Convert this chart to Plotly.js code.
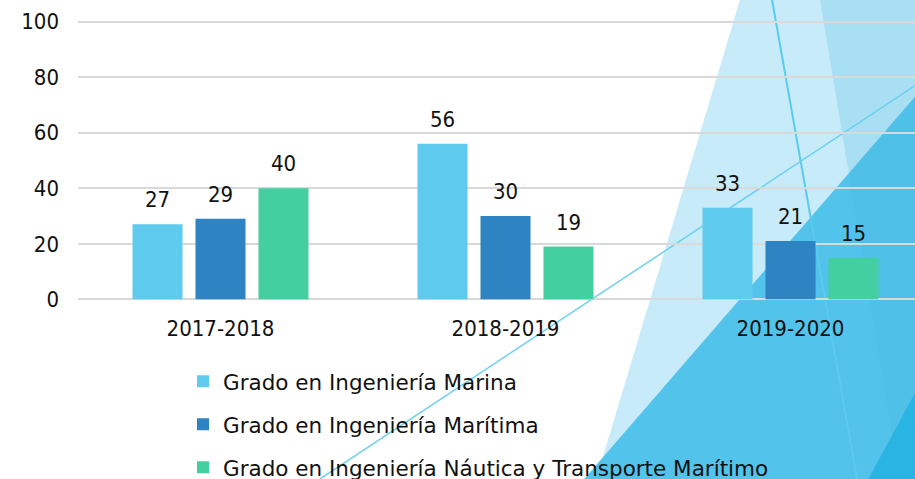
<!DOCTYPE html>
<html><head><meta charset="utf-8">
<script src="https://cdn.plot.ly/plotly-3.0.1.min.js"></script>
<style>html,body{margin:0;padding:0;background:#fff;overflow:hidden;width:915px;height:479px;}#chart{width:915px;height:500px;}</style>
</head><body><div id="chart"></div>
<script>
const categories = ["2017-2018", "2018-2019", "2019-2020"];
const seriesNames = ["Grado en Ingeniería Marina", "Grado en Ingeniería Marítima", "Grado en Ingeniería Náutica y Transporte Marítimo"];
const marina = [27, 56, 33];
const maritima = [29, 30, 21];
const nautica = [40, 19, 15];
const seriesValues = [marina, maritima, nautica];
const colors = ["#5DCAEE", "#2E83C3", "#44CFA0"];
const yTicks = [0, 20, 40, 60, 80, 100];

const FONT = "DejaVu Sans Condensed, DejaVu Sans, sans-serif";
const LFONT = "DejaVu Sans, sans-serif";
// figure drawn slightly taller than the 479px window so the legend's last row can sit at the bottom edge
const W = 915, H = 500, VIEW_H = 479;
const Y0PX = 299.5, Y100PX = 22, YPAD = 0.6;           // pixel rows of 0 and 100, small padding so edge gridlines show
const UNIT = (Y0PX - Y100PX) / 100;
const M = {l: 78, r: 0, t: Y100PX - YPAD * UNIT, b: H - (Y0PX + YPAD * UNIT)};
const PW = W - M.l - M.r, PH = H - M.t - M.b;
const px = x => (x - M.l) / PW;
const py = y => (H - M.b - y) / PH;
function poly(pts){ return pts.map((p,i)=>(i?'L':'M')+px(p[0]).toFixed(5)+','+py(p[1]).toFixed(5)).join('')+'Z'; }

const bargap = 0.337, bargroupgap = 0.206;
const slot = (1 - bargap) / seriesValues.length;

const traces = seriesValues.map((vals, j) => ({
  type: 'bar', x: categories, y: vals, name: seriesNames[j],
  marker: {color: colors[j], line: {width: 0}},
  legendgroup: 'g' + j, hoverinfo: 'skip'
}));

const annotations = [];
seriesValues.forEach((vals, j) => vals.forEach((v, i) => {
  annotations.push({x: i + (j - (seriesValues.length - 1) / 2) * slot, y: v, xref: 'x', yref: 'y',
    text: String(v), showarrow: false, yanchor: 'bottom', yshift: 10,
    font: {family: FONT, size: 22, color: '#111'}});
}));

const shapes = [
  {type: 'path', xref: 'paper', yref: 'paper', layer: 'below', line: {width: 0}, fillcolor: '#C7EBF8',
   path: poly([[740,0],[915,0],[915,H],[590,H]])},
  {type: 'path', xref: 'paper', yref: 'paper', layer: 'below', line: {width: 0}, fillcolor: '#B2E4F6',
   path: poly([[820,0],[915,0],[915,H],[903,H]])},
  {type: 'path', xref: 'paper', yref: 'paper', layer: 'below', line: {width: 0}, fillcolor: '#52C3EA',
   path: poly([[915,97],[915,H],[566,H]])},
  {type: 'path', xref: 'paper', yref: 'paper', layer: 'below', line: {width: 0}, fillcolor: 'rgba(30,150,210,0.06)',
   path: poly([[820,0],[915,0],[915,H],[903,H]])},
  {type: 'path', xref: 'paper', yref: 'paper', layer: 'below', line: {width: 0}, fillcolor: '#2AB4E3',
   path: poly([[915,393],[915,H],[857,H]])},
  {type: 'line', xref: 'paper', yref: 'paper', layer: 'below', line: {width: 2, color: '#5ACBEE'},
   x0: px(772), y0: py(0), x1: px(857), y1: py(VIEW_H)},
  {type: 'line', xref: 'paper', yref: 'paper', layer: 'below', line: {width: 1.5, color: '#6DD0F0'},
   x0: px(320), y0: py(VIEW_H), x1: px(915), y1: py(86)}
];

const layout = {
  width: W, height: H,
  margin: M,
  paper_bgcolor: '#ffffff', plot_bgcolor: 'rgba(0,0,0,0)',
  font: {family: FONT, size: 22, color: '#111'},
  barmode: 'group', bargap: bargap, bargroupgap: bargroupgap,
  showlegend: true,
  legend: {x: px(183), xanchor: 'left', y: py(361), yanchor: 'top', orientation: 'v',
    traceorder: 'grouped', tracegroupgap: 12, bgcolor: 'rgba(0,0,0,0)',
    font: {family: LFONT, size: 21.5, color: '#111'}},
  xaxis: {range: [-0.5, -0.5 + PW / 285], showgrid: false, zeroline: false, showline: false,
    ticks: '', tickfont: {family: FONT, size: 22, color: '#111'}, ticklabelstandoff: 12, fixedrange: true},
  yaxis: {range: [-YPAD, 100 + YPAD], tickvals: yTicks, ticktext: yTicks.map(String), showgrid: true, gridcolor: '#D9D9D9', gridwidth: 2,
    zeroline: false, showline: false, ticks: '', ticklabelstandoff: 18,
    tickfont: {family: FONT, size: 22, color: '#111'}, fixedrange: true},
  annotations: annotations,
  shapes: shapes
};

Plotly.newPlot('chart', traces, layout, {displayModeBar: false, staticPlot: true});
</script>
</body></html>
